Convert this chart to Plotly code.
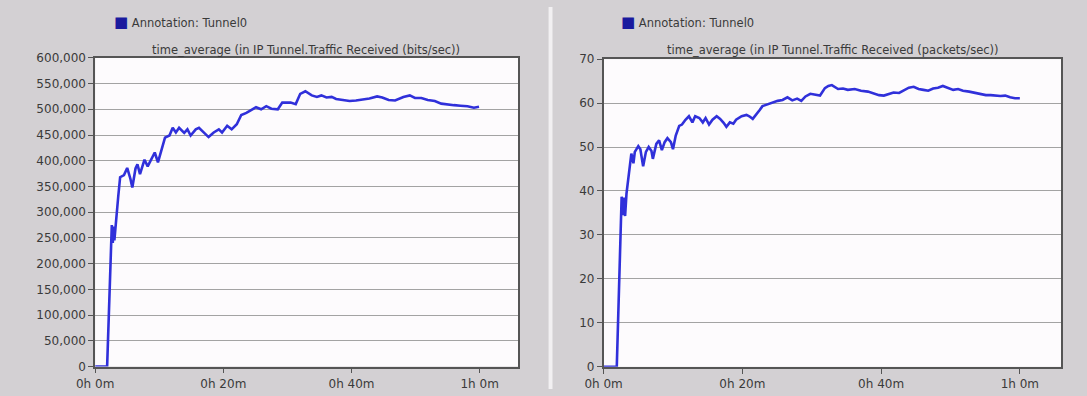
import plotly.graph_objects as go

W, H = 1087, 396

# ---- data (minutes, values) ----
t_bits = [0, 1.87, 2.6, 2.75, 2.9, 3.0, 3.6, 3.9, 4.5, 5.0, 5.5, 5.8, 6.3, 6.6, 7.0, 7.7, 8.2, 8.8,
          9.3, 9.8, 10.3, 10.9, 11.6, 12.1, 12.6, 13.1, 13.9, 14.4, 14.9, 15.7, 16.2, 17.0, 17.7,
          18.5, 19.3, 19.8, 20.6, 21.3, 22.1, 22.8, 23.6, 24.4, 25.1, 25.9, 26.7, 27.5, 28.5, 29.2,
          30.5, 31.3, 32.0, 32.8, 33.8, 34.6, 35.3, 36.1, 36.9, 37.6, 38.7, 39.7, 40.7, 41.7, 42.8,
          44.0, 44.8, 45.8, 46.8, 48.1, 49.1, 49.9, 50.9, 51.9, 53.0, 54.0, 55.0, 56.0, 57.0, 58.1,
          59.1, 59.9]
v_bits = [0, 0, 275000, 240000, 272000, 245000, 330000, 368000, 372000, 386000, 365000, 348000,
          385000, 393000, 374000, 402000, 389000, 405000, 416000, 397000, 420000, 445000, 449000,
          464000, 455000, 464000, 454000, 461000, 449000, 461000, 464000, 455000, 446000, 455000,
          461000, 455000, 468000, 461000, 471000, 489000, 493000, 499000, 504000, 500000, 506000,
          501000, 500000, 513000, 513000, 510000, 530000, 535000, 527000, 524000, 527000, 523000,
          524000, 520000, 518000, 516000, 517000, 519000, 521000, 525000, 523000, 518000, 517000,
          524000, 527000, 522000, 522000, 518000, 516000, 511000, 509000, 508000, 507000, 506000,
          503000, 505000]

t_pkts = [0, 1.9, 2.6, 2.8, 2.9, 3.1, 3.3, 3.8, 4.0, 4.3, 4.5, 5.0, 5.3, 5.7, 6.1, 6.5, 6.9, 7.1,
          7.6, 8.0, 8.4, 8.8, 9.2, 9.7, 10.0, 10.4, 10.9, 11.3, 11.8, 12.3, 12.8, 13.2, 13.8, 14.3,
          14.7, 15.2, 15.7, 16.3, 16.8, 17.3, 17.7, 18.2, 18.7, 19.1, 19.9, 20.6, 21.0, 21.5, 22.0,
          22.5, 22.9, 23.6, 24.4, 25.1, 25.8, 26.5, 27.2, 27.9, 28.5, 29.1, 29.8, 30.5, 31.2, 31.9,
          32.4, 32.9, 33.8, 34.5, 35.2, 36.2, 37.1, 38.1, 39.0, 39.7, 40.4, 41.1, 41.8, 42.6, 43.3,
          44.0, 44.7, 45.4, 46.1, 46.8, 47.5, 48.2, 48.9, 49.6, 50.4, 51.1, 51.8, 52.7, 53.7, 54.4,
          55.1, 55.8, 56.5, 57.2, 57.9, 58.6, 59.3, 60.0]
v_pkts = [0, 0, 38.7, 34.5, 38.5, 34.3, 39.4, 46.7, 48.5, 46.3, 48.9, 50.2, 49.5, 45.6, 48.9, 50.0,
          49.1, 47.3, 50.7, 51.5, 49.3, 51.1, 52.0, 51.1, 49.5, 52.6, 54.8, 55.1, 56.2, 57.0, 55.6,
          57.0, 56.6, 55.6, 56.6, 55.1, 56.2, 57.0, 56.4, 55.5, 54.6, 55.6, 55.3, 56.2, 57.0, 57.3,
          57.0, 56.4, 57.3, 58.4, 59.3, 59.7, 60.0, 60.5, 60.7, 61.3, 60.6, 61.0, 60.5, 61.5, 62.1,
          61.9, 61.7, 63.4, 63.9, 64.1, 63.2, 63.3, 63.0, 63.2, 62.8, 62.6, 62.1, 61.8, 61.7, 62.1,
          62.4, 62.3, 63.0, 63.5, 63.7, 63.2, 63.0, 62.8, 63.3, 63.5, 63.9, 63.5, 63.0, 63.2, 62.8,
          62.6, 62.3, 62.1, 61.8, 61.8, 61.7, 61.6, 61.7, 61.3, 61.1, 61.1]

x_tickvals = [0, 20, 40, 60]
x_ticktext = ["0h 0m", "0h 20m", "0h 40m", "1h 0m"]
bits_ticks = list(range(0, 600001, 50000))
pkts_ticks = list(range(0, 71, 10))
legend_text = "Annotation: Tunnel0"
title_bits = "time_average (in IP Tunnel.Traffic Received (bits/sec))"
title_pkts = "time_average (in IP Tunnel.Traffic Received (packets/sec))"

LINE = "#3030da"
SQUARE = "#1a1a9e"
TXT = "#3a3a3a"
FONT = "DejaVu Sans"

def px(x):
    return x / W

def py(y):
    return 1 - y / H

fig = go.Figure()
fig.add_trace(go.Scatter(x=t_bits, y=v_bits, mode="lines", line=dict(color=LINE, width=2.6),
                         xaxis="x", yaxis="y", showlegend=False))
fig.add_trace(go.Scatter(x=t_pkts, y=v_pkts, mode="lines", line=dict(color=LINE, width=2.6),
                         xaxis="x2", yaxis="y2", showlegend=False))

axis_common = dict(showline=True, linecolor="#555555", linewidth=1.5, mirror=True,
                   ticks="outside", ticklen=5, tickcolor="#555555", tickwidth=1,
                   tickfont=dict(family=FONT, size=12, color=TXT), zeroline=False)

fig.update_layout(
    width=W, height=H, margin=dict(l=0, r=0, t=0, b=0),
    paper_bgcolor="#d3d0d3", plot_bgcolor="#fdfbfd",
    xaxis=dict(domain=[px(77.5), px(508)], range=[0, 66], tickvals=x_tickvals, ticktext=x_ticktext,
               showgrid=False, anchor="y", **axis_common),
    yaxis=dict(domain=[py(372.7), py(52.7)], range=[0, 600000], tickvals=bits_ticks,
               tickformat=",", showgrid=True, gridcolor="#a3a3a3", gridwidth=1.2, anchor="x",
               **axis_common),
    xaxis2=dict(domain=[px(595), px(1061)], range=[0, 66], tickvals=x_tickvals, ticktext=x_ticktext,
                showgrid=False, anchor="y2", **axis_common),
    yaxis2=dict(domain=[py(373), py(54)], range=[0, 70], tickvals=pkts_ticks,
                showgrid=True, gridcolor="#a3a3a3", gridwidth=1.2, anchor="x2", **axis_common),
)

# separator between the two panels
fig.add_shape(type="rect", xref="paper", yref="paper", x0=px(539), x1=px(543), y0=0, y1=1,
              fillcolor="#f2f0f2", line=dict(width=0), layer="below")

for cx, title in ((292.5, title_bits), (828, title_pkts)):
    fig.add_annotation(x=px(cx), y=py(45), xref="paper", yref="paper", text=title, showarrow=False,
                       xanchor="center", yanchor="middle",
                       font=dict(family=FONT, size=11.5, color=TXT))

for lx in (95, 611):
    fig.add_annotation(x=px(lx), y=py(15.5), xref="paper", yref="paper",
                       text=f"<span style='color:{SQUARE};font-size:15px'>■</span> {legend_text}",
                       showarrow=False, xanchor="left", yanchor="middle",
                       font=dict(family=FONT, size=11.5, color=TXT))

fig.write_html("out.html")
